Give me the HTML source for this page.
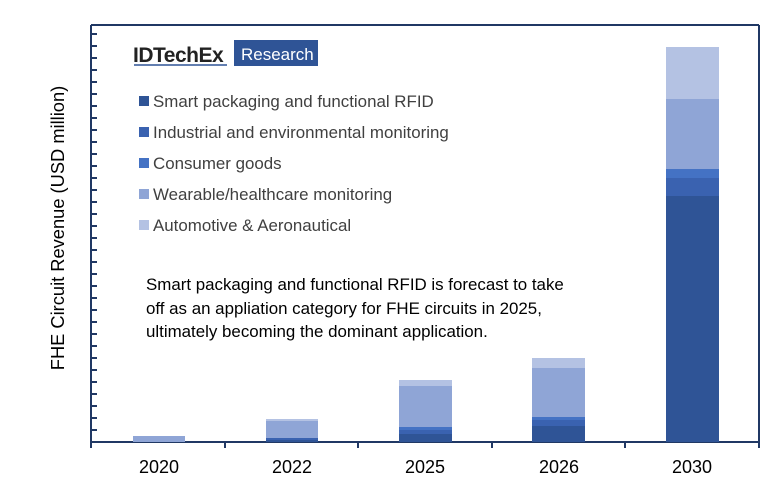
<!DOCTYPE html>
<html><head><style>
body{margin:0;background:#fff;}
svg{display:block;font-family:"Liberation Sans",sans-serif;}
</style></head><body>
<svg width="783" height="489" viewBox="0 0 783 489">
<rect x="0" y="0" width="783" height="489" fill="#fff"/>
<g stroke="#203864" stroke-width="2" fill="none">
<line x1="91" y1="25" x2="759" y2="25"/>
<line x1="759" y1="25" x2="759" y2="442"/>
<line x1="91" y1="25" x2="91" y2="443"/>
<line x1="90" y1="442" x2="760" y2="442"/>
</g>
<g stroke="#203864" stroke-width="2">
<line x1="91" y1="430" x2="97" y2="430"/><line x1="91" y1="418" x2="97" y2="418"/><line x1="91" y1="406" x2="97" y2="406"/><line x1="91" y1="394" x2="97" y2="394"/><line x1="91" y1="382" x2="97" y2="382"/><line x1="91" y1="370" x2="97" y2="370"/><line x1="91" y1="358" x2="97" y2="358"/><line x1="91" y1="346" x2="97" y2="346"/><line x1="91" y1="334" x2="97" y2="334"/><line x1="91" y1="322" x2="97" y2="322"/><line x1="91" y1="310" x2="97" y2="310"/><line x1="91" y1="298" x2="97" y2="298"/><line x1="91" y1="286" x2="97" y2="286"/><line x1="91" y1="274" x2="97" y2="274"/><line x1="91" y1="262" x2="97" y2="262"/><line x1="91" y1="250" x2="97" y2="250"/><line x1="91" y1="238" x2="97" y2="238"/><line x1="91" y1="226" x2="97" y2="226"/><line x1="91" y1="214" x2="97" y2="214"/><line x1="91" y1="202" x2="97" y2="202"/><line x1="91" y1="190" x2="97" y2="190"/><line x1="91" y1="178" x2="97" y2="178"/><line x1="91" y1="166" x2="97" y2="166"/><line x1="91" y1="154" x2="97" y2="154"/><line x1="91" y1="142" x2="97" y2="142"/><line x1="91" y1="130" x2="97" y2="130"/><line x1="91" y1="118" x2="97" y2="118"/><line x1="91" y1="106" x2="97" y2="106"/><line x1="91" y1="94" x2="97" y2="94"/><line x1="91" y1="82" x2="97" y2="82"/><line x1="91" y1="70" x2="97" y2="70"/><line x1="91" y1="58" x2="97" y2="58"/><line x1="91" y1="46" x2="97" y2="46"/><line x1="91" y1="34" x2="97" y2="34"/>
<line x1="225" y1="442" x2="225" y2="448"/><line x1="358" y1="442" x2="358" y2="448"/><line x1="492" y1="442" x2="492" y2="448"/><line x1="625" y1="442" x2="625" y2="448"/><line x1="759" y1="442" x2="759" y2="448"/><line x1="91" y1="442" x2="91" y2="448"/>
</g>
<rect x="133" y="436" width="52" height="6" fill="#8fa5d6"/>
<rect x="266" y="419" width="52" height="2" fill="#b4c2e3"/>
<rect x="266" y="421" width="52" height="17" fill="#8fa5d6"/>
<rect x="266" y="438" width="52" height="2" fill="#3a62b0"/>
<rect x="266" y="440" width="52" height="2" fill="#2f5496"/>
<rect x="399" y="380" width="53" height="6" fill="#b4c2e3"/>
<rect x="399" y="386" width="53" height="41" fill="#8fa5d6"/>
<rect x="399" y="427" width="53" height="3" fill="#4472c4"/>
<rect x="399" y="430" width="53" height="4" fill="#3a62b0"/>
<rect x="399" y="434" width="53" height="8" fill="#2f5496"/>
<rect x="532" y="358" width="53" height="10" fill="#b4c2e3"/>
<rect x="532" y="368" width="53" height="49" fill="#8fa5d6"/>
<rect x="532" y="417" width="53" height="3" fill="#4472c4"/>
<rect x="532" y="420" width="53" height="6" fill="#3a62b0"/>
<rect x="532" y="426" width="53" height="16" fill="#2f5496"/>
<rect x="666" y="47" width="53" height="52" fill="#b4c2e3"/>
<rect x="666" y="99" width="53" height="70" fill="#8fa5d6"/>
<rect x="666" y="169" width="53" height="9" fill="#4472c4"/>
<rect x="666" y="178" width="53" height="18" fill="#3a62b0"/>
<rect x="666" y="196" width="53" height="246" fill="#2f5496"/>
<g font-size="18" fill="#000" text-anchor="middle">
<text x="159" y="473">2020</text><text x="292" y="473">2022</text><text x="425" y="473">2025</text><text x="559" y="473">2026</text><text x="692" y="473">2030</text>
</g>
<text transform="translate(64,228) rotate(-90)" font-size="18.3" text-anchor="middle" fill="#000">FHE Circuit Revenue (USD million)</text>
<text x="133" y="62" font-size="21" font-weight="bold" fill="#222" letter-spacing="-0.5">IDTechEx</text>
<line x1="134" y1="65" x2="227" y2="65" stroke="#2f5496" stroke-width="1.5"/>
<rect x="234" y="40" width="84" height="26" fill="#2f5496"/>
<text x="241" y="60" font-size="17" fill="#fff">Research</text>
<g font-size="16.9" fill="#404040">
<rect x="139" y="96" width="10" height="10" fill="#2f5496"/><text x="153" y="107">Smart packaging and functional RFID</text>
<rect x="139" y="127" width="10" height="10" fill="#3a62b0"/><text x="153" y="138">Industrial and environmental monitoring</text>
<rect x="139" y="158" width="10" height="10" fill="#4472c4"/><text x="153" y="169">Consumer goods</text>
<rect x="139" y="189" width="10" height="10" fill="#8fa5d6"/><text x="153" y="200">Wearable/healthcare monitoring</text>
<rect x="139" y="220" width="10" height="10" fill="#b4c2e3"/><text x="153" y="231">Automotive &amp; Aeronautical</text>
</g>
<g font-size="16.9" fill="#000">
<text x="146" y="290">Smart packaging and functional RFID is forecast to take</text>
<text x="146" y="314">off as an appliation category for FHE circuits in 2025,</text>
<text x="146" y="337">ultimately becoming the dominant application.</text>
</g>
</svg>
</body></html>
